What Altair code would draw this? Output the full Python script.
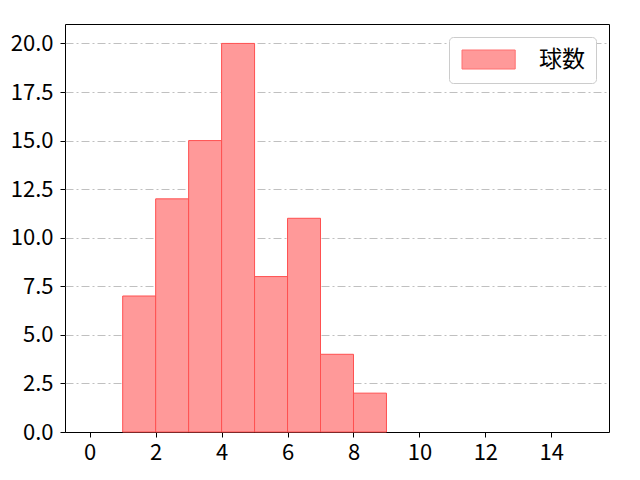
import altair as alt
import pandas as pd

bin_start = [1, 2, 3, 4, 5, 6, 7, 8]
bin_end = [2, 3, 4, 5, 6, 7, 8, 9]
counts = [7, 12, 15, 20, 8, 11, 4, 2]
series = "球数"
x_ticks = [0, 2, 4, 6, 8, 10, 12, 14]
y_ticks = [0, 2.5, 5, 7.5, 10, 12.5, 15, 17.5, 20]

df = pd.DataFrame({"start": bin_start, "end": bin_end, "count": counts, "s": [series] * len(counts)})

FONT = "Noto Sans CJK JP"

chart = alt.Chart(df).mark_rect(
    fill="#ff9999", stroke="#ff5050", strokeWidth=1, opacity=1
).encode(
    x=alt.X("start:Q", scale=alt.Scale(domain=[-0.75, 15.75], nice=False, zero=False),
            axis=alt.Axis(values=x_ticks, title=None, grid=False, format="d", labelPadding=5)),
    x2="end:Q",
    y=alt.Y("count:Q", scale=alt.Scale(domain=[0, 21], nice=False),
            axis=alt.Axis(values=y_ticks, title=None, format=".1f", grid=True,
                          gridColor=alt.condition("datum.value == 0", alt.value("black"), alt.value("#b0b0b0")),
                          gridDash=[8, 3, 2, 3], gridWidth=0.8, labelPadding=7)),
    y2=alt.datum(0),
    color=alt.Color("s:N", scale=alt.Scale(range=["#ff9999"]),
                    legend=alt.Legend(title=None, orient="top-right",
                                      symbolType="M-1,-1H4.6V1H-1Z",
                                      symbolSize=361, symbolStrokeColor="#ff7070",
                                      symbolStrokeWidth=1, symbolOpacity=1,
                                      labelFontSize=23, labelFont=FONT,
                                      labelOffset=56,
                                      fillColor="white", strokeColor="#cccccc",
                                      cornerRadius=4, padding=11, offset=13)),
).properties(
    width=544, height=408,
    autosize=alt.AutoSizeParams(type="none"),
    padding={"left": 57, "top": 16, "right": 23, "bottom": 40},
).configure_view(
    stroke="black", strokeWidth=1
).configure_axis(
    labelFont=FONT, labelFontSize=22, labelColor="black",
    domain=False, tickColor="black", tickSize=5,
)

chart.save("out.html", embed_options={"renderer": "svg", "actions": False})
